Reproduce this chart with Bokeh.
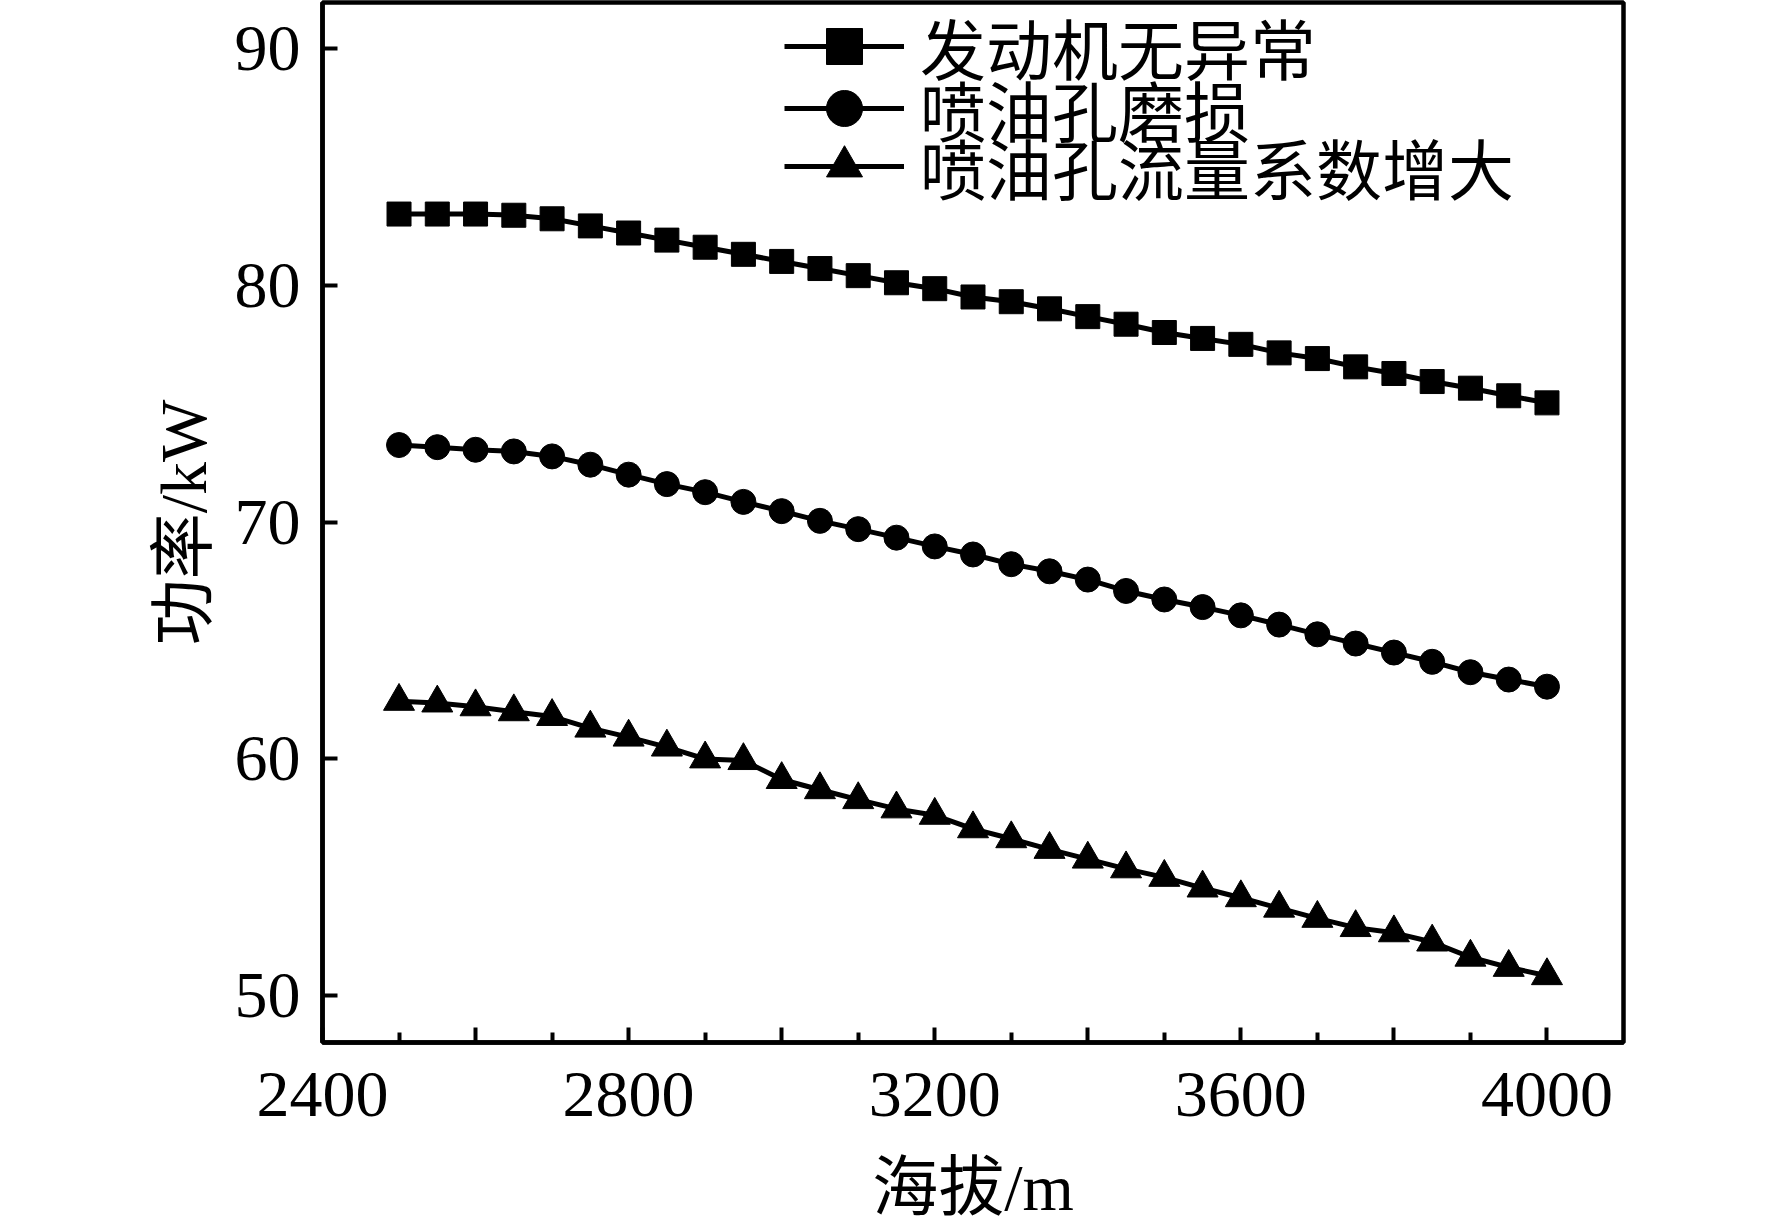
from bokeh.plotting import figure
from bokeh.models import Range1d, FixedTicker, Legend, LegendItem
from bokeh.embed import file_html
from bokeh.resources import INLINE

# ---------------- data ----------------
altitude = [2500, 2550, 2600, 2650, 2700, 2750, 2800, 2850, 2900, 2950, 3000,
            3050, 3100, 3150, 3200, 3250, 3300, 3350, 3400, 3450, 3500, 3550,
            3600, 3650, 3700, 3750, 3800, 3850, 3900, 3950, 4000]
normal = [83.0, 83.0, 83.0, 82.95, 82.8, 82.5, 82.2, 81.9, 81.6, 81.3, 81.0,
          80.7, 80.4, 80.1, 79.85, 79.5, 79.3, 79.0, 78.67, 78.35, 78.0, 77.75,
          77.5, 77.14, 76.9, 76.55, 76.27, 75.93, 75.65, 75.33, 75.03]
wear = [73.25, 73.16, 73.05, 72.98, 72.77, 72.42, 72.0, 71.6, 71.26, 70.85, 70.46,
        70.05, 69.7, 69.34, 68.97, 68.63, 68.22, 67.92, 67.57, 67.09, 66.73, 66.41,
        66.06, 65.67, 65.26, 64.87, 64.49, 64.1, 63.66, 63.35, 63.05]
flow = [62.43, 62.36, 62.2, 61.99, 61.79, 61.3, 60.92, 60.5, 60.0, 59.93, 59.13,
        58.7, 58.28, 57.89, 57.62, 57.05, 56.63, 56.18, 55.77, 55.36, 55.0, 54.55,
        54.14, 53.7, 53.27, 52.88, 52.66, 52.27, 51.63, 51.2, 50.85]
series_names = ["发动机无异常", "喷油孔磨损", "喷油孔流量系数增大"]
x_major_ticks = [2400, 2600, 2800, 3000, 3200, 3400, 3600, 3800, 4000]
x_minor_ticks = [2500, 2700, 2900, 3100, 3300, 3500, 3700, 3900]
x_tick_labels = ["2400", "", "2800", "", "3200", "", "3600", "", "4000"]
y_ticks = [50, 60, 70, 80, 90]
x_title = "海拔/m"
y_title = "功率/kW"

SERIF = "'Liberation Serif', 'Noto Sans CJK SC'"
CJK = "'Noto Sans CJK SC'"

p = figure(frame_width=1301, frame_height=1040,
           x_range=Range1d(2400, 4100), y_range=Range1d(48.03, 91.93),
           output_backend="svg", toolbar_location=None,
           min_border_left=322, min_border_right=100, min_border_top=2,
           min_border_bottom=0)

p.background_fill_color = "white"
p.border_fill_color = "white"
p.grid.visible = False
p.outline_line_color = "black"
p.outline_line_width = 4.5

# axes
xa = p.xaxis[0]
xa.ticker = FixedTicker(ticks=x_major_ticks, minor_ticks=x_minor_ticks)
xa.major_label_overrides = {t: lab for t, lab in zip(x_major_ticks, x_tick_labels)}
ya = p.yaxis[0]
ya.ticker = FixedTicker(ticks=y_ticks, minor_ticks=[])
for ax in (xa, ya):
    ax.axis_line_color = "black"
    ax.axis_line_width = 4.5
    ax.major_tick_line_width = 4
    ax.minor_tick_line_width = 4
    ax.major_tick_in = 15
    ax.major_tick_out = 0
    ax.minor_tick_in = 10
    ax.minor_tick_out = 0
    ax.major_label_text_font = SERIF
    ax.major_label_text_font_size = "66px"
    ax.major_label_text_color = "black"
    ax.axis_label_text_font = SERIF
    ax.axis_label_text_font_size = "66px"
    ax.axis_label_text_font_style = "normal"
    ax.axis_label_text_color = "black"
xa.axis_label = x_title
ya.axis_label = y_title
xa.major_label_standoff = 30
ya.major_label_standoff = 22
xa.axis_label_standoff = 32
ya.axis_label_standoff = 12

legend_rows_vy = [948, 886, 828]
for vals, marker, size, name, vy in [(normal, "square", 24, series_names[0], legend_rows_vy[0]),
                                     (wear, "circle", 25, series_names[1], legend_rows_vy[1]),
                                     (flow, "triangle", 31, series_names[2], legend_rows_vy[2])]:
    lr = p.line(altitude, vals, line_color="black", line_width=5)
    sr = p.scatter(altitude, vals, marker=marker, size=size,
                   fill_color="black", line_color="black", line_width=1)
    lg = Legend(items=[LegendItem(label=name, renderers=[lr, sr])],
                location=(462, vy),
                glyph_width=120, glyph_height=90, label_height=90,
                label_standoff=16,
                label_text_font=CJK, label_text_font_size="66px",
                label_text_color="black", spacing=0, padding=0, margin=0,
                border_line_color=None, background_fill_alpha=0)
    p.add_layout(lg)

open("out.html", "w").write(file_html(p, INLINE))
